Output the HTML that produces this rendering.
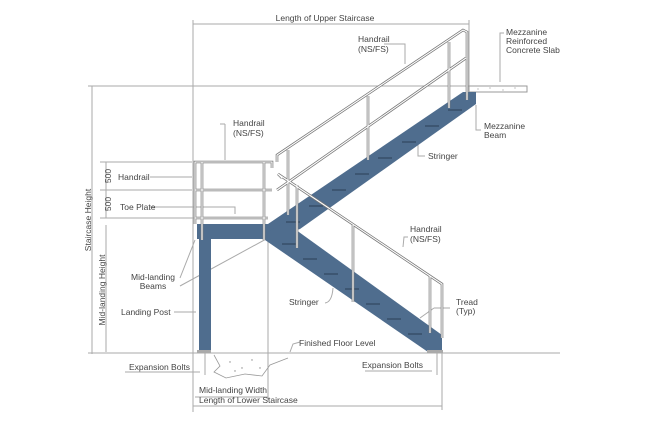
<!DOCTYPE html>
<html><head><meta charset="utf-8"><style>
html,body{margin:0;padding:0;background:#fff;}
svg{display:block;}
text{font-family:"Liberation Sans",sans-serif;font-size:8.5px;fill:#444;}
</style></head><body>
<svg width="650" height="440" viewBox="0 0 650 440" xmlns="http://www.w3.org/2000/svg">
<g stroke="#aaa" stroke-width="1" fill="none">
<!-- dimension/extension lines -->
<line x1="193" y1="24" x2="469" y2="24"/>
<line x1="193" y1="20" x2="193" y2="412"/>
<line x1="469" y1="20" x2="469" y2="92"/>
<line x1="88" y1="86" x2="469" y2="86"/>
<line x1="92" y1="86" x2="92" y2="354"/>
<line x1="106" y1="225" x2="106" y2="352"/>
<line x1="100" y1="162" x2="192" y2="162"/>
<line x1="100" y1="190" x2="192" y2="190"/>
<line x1="100" y1="218" x2="195" y2="218"/>
<line x1="106" y1="162" x2="106" y2="218"/>
<line x1="88" y1="353" x2="560" y2="353"/>
<line x1="268" y1="240" x2="268" y2="400"/>
<line x1="195" y1="397" x2="268" y2="397"/>
<line x1="193" y1="406" x2="442" y2="406"/>
<line x1="442" y1="353" x2="442" y2="410"/>
<line x1="437" y1="353" x2="437" y2="375"/>
<line x1="205" y1="353" x2="205" y2="375"/>
<!-- leaders -->
<line x1="150" y1="177" x2="192" y2="177"/>
<polyline points="150,207 235,207 235,214"/>
<polyline points="180,278 195,240"/>
<polyline points="180,286 268,238"/>
<line x1="174" y1="312" x2="196" y2="312"/>
<line x1="125" y1="372" x2="200" y2="372"/>
<line x1="365" y1="371" x2="432" y2="371"/>
<polyline points="225,124 225,160"/>
<polyline points="220,124 225,124"/>
<polyline points="384,44 405,44 405,64"/>
<polyline points="425,156 418,156 418,144"/>
<polyline points="476,105 476,130 481,130"/>
<polyline points="504,33 500,33 500,82"/>
<polyline points="408,237 404,237 403,247"/>
<path d="M325,303 Q332,302 333,288"/>
<path d="M434,308 L450,308 M434,308 L420,318"/>
<path d="M300,342 L293,344 L290,352"/>
</g>
<!-- slab -->
<rect x="469" y="86" width="58" height="6" fill="#fff" stroke="#999"/>
<g fill="#999"><circle cx="478" cy="89" r=".6"/><circle cx="490" cy="88" r=".6"/><circle cx="503" cy="90" r=".6"/><circle cx="515" cy="88" r=".6"/></g>
<!-- ground hatch -->
<path d="M214,355 L220,366 L214,372 L226,378 L245,374 L262,376 L270,365 L288,358" fill="none" stroke="#999" stroke-width=".8"/>
<g fill="#888"><circle cx="230" cy="362" r=".7"/><circle cx="242" cy="368" r=".7"/><circle cx="252" cy="360" r=".7"/><circle cx="260" cy="368" r=".7"/><circle cx="235" cy="371" r=".7"/></g>
<!-- structure blue -->
<g fill="#4f6d8e">
<rect x="197" y="224" width="71" height="15"/>
<rect x="199" y="239" width="12" height="113"/>
<polygon points="268,224 463,92 476,92 476,104 300,229 268,239"/>
<polygon points="268,232 285,222 442,335 442,350 428,352 265,240"/>
</g>
<rect x="197" y="350" width="14" height="3" fill="#aaa"/>
<rect x="427" y="350" width="16" height="3" fill="#aaa"/>
<!-- treads -->
<g stroke="#2b3e55" stroke-width="1">
<line x1="448" y1="110" x2="462" y2="110"/><line x1="425" y1="126" x2="439" y2="126"/><line x1="402" y1="142" x2="416" y2="142"/><line x1="378" y1="158" x2="392" y2="158"/><line x1="355" y1="174" x2="369" y2="174"/><line x1="332" y1="190" x2="346" y2="190"/><line x1="309" y1="206" x2="323" y2="206"/><line x1="286" y1="222" x2="300" y2="222"/>
<line x1="282" y1="244" x2="296" y2="244"/><line x1="303" y1="259" x2="317" y2="259"/><line x1="324" y1="274" x2="338" y2="274"/><line x1="345" y1="289" x2="359" y2="289"/><line x1="366" y1="304" x2="380" y2="304"/><line x1="387" y1="319" x2="401" y2="319"/><line x1="408" y1="334" x2="422" y2="334"/>
</g>
<!-- handrails -->
<g fill="none" stroke="#777" stroke-width="2.6"><g id="r">
<polyline points="277,162 277,155 463,30 467,32 467,100"/>
<polyline points="277,190 466,58"/>
<line x1="449" y1="42" x2="449" y2="108"/>
<line x1="368" y1="96" x2="368" y2="160"/>
<line x1="288" y1="150" x2="288" y2="215"/>
<polyline points="282,178 278,174 442,284 442,338"/>
<line x1="353" y1="225" x2="353" y2="302"/>
<line x1="297" y1="185" x2="297" y2="248"/>
<line x1="430" y1="276" x2="430" y2="333"/>
<polyline points="195,224 195,162 272,162 272,168"/>
<line x1="195" y1="190" x2="272" y2="190"/>
<line x1="195" y1="218" x2="268" y2="218"/>
<line x1="202" y1="162" x2="202" y2="240"/>
<line x1="264" y1="162" x2="264" y2="240"/>
</g></g>
<g fill="none" stroke="#fff" stroke-width="1.1">
<polyline points="277,162 277,155 463,30 467,32 467,100"/>
<polyline points="277,190 466,58"/>
<line x1="449" y1="42" x2="449" y2="108"/>
<line x1="368" y1="96" x2="368" y2="160"/>
<line x1="288" y1="150" x2="288" y2="215"/>
<polyline points="282,178 278,174 442,284 442,338"/>
<line x1="353" y1="225" x2="353" y2="302"/>
<line x1="297" y1="185" x2="297" y2="248"/>
<line x1="430" y1="276" x2="430" y2="333"/>
<polyline points="195,224 195,162 272,162 272,168"/>
<line x1="195" y1="190" x2="272" y2="190"/>
<line x1="195" y1="218" x2="268" y2="218"/>
<line x1="202" y1="162" x2="202" y2="240"/>
<line x1="264" y1="162" x2="264" y2="240"/>
</g>
<!-- text -->
<text x="325" y="21" text-anchor="middle">Length of Upper Staircase</text>
<text x="358" y="42">Handrail</text><text x="358" y="52">(NS/FS)</text>
<text x="506" y="35">Mezzanine</text><text x="506" y="44">Reinforced</text><text x="506" y="53">Concrete Slab</text>
<text x="484" y="129">Mezzanine</text><text x="484" y="138">Beam</text>
<text x="233" y="126">Handrail</text><text x="233" y="136">(NS/FS)</text>
<text x="428" y="159">Stringer</text>
<text x="118" y="180">Handrail</text>
<text x="120" y="210">Toe Plate</text>
<text x="410" y="232">Handrail</text><text x="410" y="242">(NS/FS)</text>
<text x="153" y="280" text-anchor="middle">Mid-landing</text><text x="153" y="289" text-anchor="middle">Beams</text>
<text x="121" y="315">Landing Post</text>
<text x="289" y="305">Stringer</text>
<text x="456" y="305">Tread</text><text x="456" y="314">(Typ)</text>
<text x="299" y="346">Finished Floor Level</text>
<text x="129" y="370">Expansion Bolts</text>
<text x="362" y="368">Expansion Bolts</text>
<text x="199" y="393">Mid-landing Width</text>
<text x="199" y="403">Length of Lower Staircase</text>
<text transform="translate(91,220) rotate(-90)" text-anchor="middle">Staircase Height</text>
<text transform="translate(105,290) rotate(-90)" text-anchor="middle">Mid-landing Height</text>
<text transform="translate(111,176) rotate(-90)" text-anchor="middle">500</text>
<text transform="translate(111,204) rotate(-90)" text-anchor="middle">500</text>
</svg>
</body></html>
